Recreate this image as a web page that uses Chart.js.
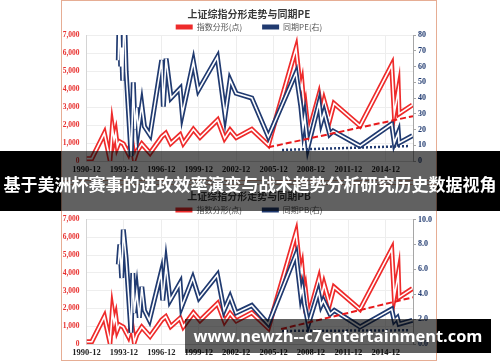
<!DOCTYPE html>
<html>
<head>
<meta charset="utf-8">
<script src="https://cdn.jsdelivr.net/npm/chart.js@4.4.1/dist/chart.umd.min.js"></script>
<style>
    html, body { margin: 0; padding: 0; background: #fff; }
    body { position: relative; width: 500px; height: 362px; overflow: hidden; }
    .box { position: absolute; left: 61px; width: 376px; border: 1px solid #e6ad94; box-sizing: border-box; background: #fff; }
    #box-pe { top: 0; height: 181px; }
    #box-pb { top: 184px; height: 177px; }
    canvas { display: block; }
    .shade { position: absolute; }
    .dark { background: #000; }
    .dim { background: rgba(0, 0, 0, 0.62); }
    .banner-text { position: absolute; left: 0; width: 500px; top: 171px; height: 26px; line-height: 26px; text-align: center; color: #fff; font: bold 17px "Noto Sans CJK SC", sans-serif; white-space: nowrap; }
    .mark-text { position: absolute; left: 185px; width: 306px; top: 324px; height: 26px; line-height: 26px; text-align: center; color: #fff; font: bold 16.4px "Open Sans", sans-serif; white-space: nowrap; }
</style>
</head>
<body>
<div class="box" id="box-pe"><canvas id="chart-pe" width="374" height="179"></canvas></div>
<div class="box" id="box-pb"><canvas id="chart-pb" width="374" height="175"></canvas></div>

<div class="shade dark" style="left:0;top:151px;width:61px;height:60px"></div>
<div class="shade dim" style="left:61px;top:151px;width:376px;height:60px"></div>
<div class="shade dark" style="left:437px;top:151px;width:63px;height:60px"></div>
<div class="banner-text">基于美洲杯赛事的进攻效率演变与战术趋势分析研究历史数据视角</div>

<div class="shade dim" style="left:185px;top:319px;width:252px;height:34px"></div>
<div class="shade dark" style="left:437px;top:319px;width:54px;height:34px"></div>
<div class="mark-text">www.newzh--c7entertainment.com</div>

<script>
// x positions are decimal years
const xTickLabels = ['1990-12', '1993-12', '1996-12', '1999-12', '2002-12', '2005-12', '2008-12', '2011-12', '2014-12'];

const indexX = [1990.92, 1991.34, 1992.35, 1992.67, 1992.80, 1992.99, 1993.13, 1993.26, 1993.39, 1993.55, 1993.87, 1994.27, 1994.54, 1994.75, 1994.95, 1995.35, 1996.01, 1996.95, 1997.27, 1997.67, 1998.42, 1998.68, 1999.49, 2000.02, 2001.43, 2001.99, 2002.43, 2002.93, 2004.17, 2005.50, 2007.72, 2008.08, 2008.20, 2008.40, 2008.48, 2008.72, 2009.55, 2009.77, 2009.97, 2010.41, 2010.77, 2012.85, 2015.39, 2015.60, 2015.92, 2015.98, 2017.05];
const indexY = [130, 130, 1540, 500, 80, 1850, 1170, 1540, 800, 1080, 950, 420, 1120, 100, 520, 950, 430, 1350, 1540, 980, 1450, 980, 1760, 1320, 2280, 1260, 1720, 1300, 1760, 890, 6250, 3900, 4300, 2700, 3000, 1550, 3650, 2700, 3350, 2250, 3200, 1950, 5330, 2650, 3940, 2620, 3110];

const peX = [1993.47, 1993.55, 1993.66, 1993.74, 1993.82, 1993.93, 1994.09, 1994.50, 1994.67, 1994.81, 1994.95, 1995.07, 1995.35, 1995.56, 1996.01, 1996.95, 1997.08, 1997.30, 1997.70, 1998.42, 1998.60, 1999.49, 1999.89, 2001.41, 2002.03, 2002.43, 2002.91, 2004.17, 2005.50, 2007.72, 2008.11, 2008.28, 2008.42, 2008.68, 2009.57, 2009.75, 2009.97, 2010.42, 2010.69, 2012.85, 2015.39, 2015.60, 2015.92, 2015.98, 2017.05];
const peY = [64, 95, 60, 72, 51, 100, 57, 3, 50, 20, 34, 20, 35.5, 22, 16.5, 64, 34.5, 65, 40, 46, 30, 63, 45, 66, 29, 51.5, 43, 40, 15.4, 56, 34.5, 20.8, 28, 9, 37, 25, 31, 17, 19, 9.5, 23.5, 11.5, 18, 11.5, 16];

const pbX = [1993.47, 1993.59, 1993.74, 1993.87, 1994.09, 1994.49, 1994.63, 1994.75, 1994.95, 1995.15, 1995.35, 1995.56, 1995.96, 1996.89, 1997.03, 1997.30, 1997.62, 1998.42, 1998.55, 1999.44, 1999.94, 2001.41, 2001.95, 2002.43, 2002.91, 2004.17, 2005.50, 2007.72, 2008.10, 2008.23, 2008.39, 2008.71, 2009.51, 2009.73, 2009.91, 2010.45, 2010.79, 2012.85, 2015.39, 2015.60, 2015.84, 2015.98, 2017.05];
const pbY = [6.4, 8.0, 5.3, 9.2, 6.9, 0.9, 5.7, 2.5, 4.2, 2.1, 4.6, 2.7, 1.9, 5.7, 3.5, 6.3, 3.5, 4.9, 3.0, 5.3, 3.7, 5.55, 2.7, 3.8, 2.5, 3.1, 1.6, 7.2, 3.9, 4.5, 3.2, 1.6, 4.2, 3.1, 3.5, 2.4, 2.7, 1.37, 2.8, 1.85, 2.1, 1.6, 1.9];

// trend (dashed red) and floor (dotted blue) lines
const peTrendX = [2005.48, 2017.10];
const peTrendY = [8.7, 28.5];
const peFloorX = [2006.60, 2016.86];
const peFloorY = [7.0, 9.5];
const pbTrendX = [2006.52, 2017.10];
const pbTrendY = [1.2, 3.75];
const pbFloorX = [2006.60, 2016.86];
const pbFloorY = [1.05, 1.1];

const RED = '#ee2b2b';
const NAVY = '#203a70';
const SERIF = "'Liberation Serif', 'Times New Roman', serif";
const CJK = "'Noto Sans CJK SC', sans-serif";

const pts = (xs, ys) => xs.map((x, i) => ({ x: x, y: ys[i] }));
const tickValue = (label) => {
    const [y, m] = label.split('-').map(Number);
    return y + (m - 1) / 12;
};

// the legend adds a fixed 10px under its row; trim it so the plot starts where the picture's does
function legendTrim(px) {
    return {
        id: 'legendTrim',
        afterInit(chart) {
            const fit = chart.legend.fit;
            chart.legend.fit = function () {
                fit.call(this);
                this.height -= px;
            };
        }
    };
}

function buildChart(canvasId, cfg) {
    const line = (label, data, color, width, axis, order, dash) => ({
        label: label, data: data, borderColor: color, borderWidth: width,
        yAxisID: axis, order: order, borderDash: dash || [],
        pointRadius: 0, tension: 0, fill: false
    });

    const indexPts = pts(indexX, indexY);
    const bluePts = pts(cfg.blueX, cfg.blueY);

    // each series is drawn twice (colour, then a thin white core) to get the double-line look
    const datasets = [
        line('指数分形(点)', indexPts, RED, 5, 'yL', 4),
        line(cfg.blueLabel, bluePts, NAVY, 5, 'yR', 2),
        line('inner-red', indexPts, '#fff', 1.6, 'yL', 3),
        line('inner-blue', bluePts, '#fff', 1.6, 'yR', 1),
        line('trend', pts(cfg.trendX, cfg.trendY), '#e8191b', 2, 'yR', 0, [6, 3]),
        line('floor', pts(cfg.floorX, cfg.floorY), NAVY, 2.5, 'yR', 0, [2, 2])
    ];

    return new Chart(document.getElementById(canvasId), {
        type: 'line',
        data: { datasets: datasets },
        plugins: [legendTrim(cfg.trim)],
        options: {
            responsive: false,
            animation: false,
            events: [],
            layout: { padding: { left: 0, right: 0, top: 0, bottom: cfg.bottomPad } },
            plugins: {
                tooltip: { enabled: false },
                title: {
                    display: true,
                    text: cfg.title,
                    color: '#3a3a3a',
                    font: { family: CJK, size: 10, weight: 'bold' },
                    padding: { top: cfg.titleTop, bottom: cfg.titleBottom }
                },
                legend: {
                    display: true,
                    labels: {
                        usePointStyle: true,
                        pointStyle: 'line',
                        pointStyleWidth: 17,
                        padding: 20,
                        color: '#555',
                        font: { family: CJK, size: 8 },
                        filter: (item) => item.datasetIndex < 2,
                        sort: (a, b) => a.datasetIndex - b.datasetIndex
                    }
                }
            },
            scales: {
                x: {
                    type: 'linear',
                    min: 1990.917,
                    max: 2017.10,
                    afterBuildTicks: (axis) => { axis.ticks = xTickLabels.map(l => ({ value: tickValue(l) })); },
                    afterFit: (axis) => { axis.height = 14.2; },
                    ticks: {
                        autoSkip: false,
                        maxRotation: 0,
                        padding: 4,
                        color: '#222',
                        font: { family: SERIF, size: 8.5, weight: 'bold' },
                        callback: (v, i) => xTickLabels[i]
                    },
                    grid: { color: '#ededed', drawTicks: false },
                    border: { color: '#d4d4d4' }
                },
                yL: {
                    position: 'left',
                    min: 0,
                    max: 7000,
                    afterFit: (axis) => { axis.width = 24.5; },
                    ticks: {
                        stepSize: 1000,
                        padding: 7,
                        color: '#e8302e',
                        font: { family: SERIF, size: 7.5, weight: 'bold' },
                        callback: (v) => v.toLocaleString('en-US')
                    },
                    grid: { color: '#eeeeee', drawTicks: false },
                    border: { color: '#d4d4d4' }
                },
                yR: {
                    position: 'right',
                    min: 0,
                    max: cfg.rightMax,
                    afterFit: (axis) => { axis.width = 23; },
                    ticks: {
                        stepSize: cfg.rightStep,
                        padding: 2,
                        color: NAVY,
                        font: { family: SERIF, size: 8, weight: 'bold' },
                        callback: cfg.rightFmt
                    },
                    grid: { drawOnChartArea: false, tickLength: 3, color: '#a6a6a6' },
                    border: { color: '#a6a6a6' }
                }
            }
        }
    });
}

buildChart('chart-pe', {
    title: '上证综指分形走势与同期PE',
    blueLabel: '同期PE(右)',
    blueX: peX, blueY: peY,
    trendX: peTrendX, trendY: peTrendY,
    floorX: peFloorX, floorY: peFloorY,
    rightMax: 80, rightStep: 10,
    rightFmt: (v) => String(v),
    titleTop: 7, titleBottom: -17, trim: 6, bottomPad: 4.8
});

buildChart('chart-pb', {
    title: '上证综指分形走势与同期PB',
    blueLabel: '同期PB(右)',
    blueX: pbX, blueY: pbY,
    trendX: pbTrendX, trendY: pbTrendY,
    floorX: pbFloorX, floorY: pbFloorY,
    rightMax: 10, rightStep: 1,
    rightFmt: (v) => v.toFixed(1),
    titleTop: 5, titleBottom: -16, trim: 4.5, bottomPad: 1.8
});
</script>
</body>
</html>
